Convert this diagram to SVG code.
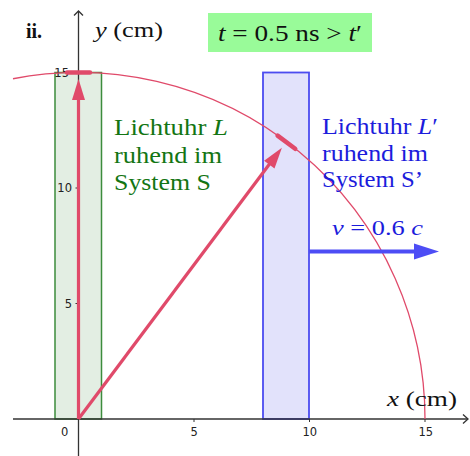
<svg xmlns="http://www.w3.org/2000/svg" width="470" height="456" viewBox="0 0 470 456">
<style>
.ax{stroke:#333;stroke-width:1.3;fill:none}
.tick{font-family:"DejaVu Sans",sans-serif;font-size:11.5px;fill:#222}
.serif{font-family:"Liberation Serif","Times New Roman",serif}
.red{stroke:#e04a6a;fill:none}
.gtxt{fill:#137513;font-size:23px}
.btxt{fill:#1c1cdc;font-size:23px}
</style>
<rect width="470" height="456" fill="#fff"/>
<g id="rects">
<rect id="clockL" x="55" y="72.5" width="46.5" height="346.5" fill="#e3eee3" stroke="#3d8c3d" stroke-width="1.5"/>
<rect id="clockL2" x="263" y="72.5" width="46" height="346.5" fill="#e2e2fb" stroke="#4c4cf0" stroke-width="1.8"/>
</g>
<g id="axes">
<line class="ax" x1="13" y1="419" x2="468" y2="419"/>
<polyline class="ax" points="463,414.5 468,419 463,423.5"/>
<line class="ax" x1="78.5" y1="456" x2="78.5" y2="11"/>
<polyline class="ax" points="74,15.5 78.5,11 83,15.5"/>
<g stroke="#333" stroke-width="1">
<line x1="75.5" y1="303.5" x2="78.5" y2="303.5"/>
<line x1="75.5" y1="188" x2="78.5" y2="188"/>
<line x1="75.5" y1="72.5" x2="78.5" y2="72.5"/>
<line x1="194" y1="419" x2="194" y2="422"/>
<line x1="309.5" y1="419" x2="309.5" y2="422"/>
<line x1="425" y1="419" x2="425" y2="422"/>
</g>
<text class="tick" x="61" y="436">0</text>
<text class="tick" x="190.5" y="436">5</text>
<text class="tick" x="302.5" y="436">10</text>
<text class="tick" x="418.5" y="436">15</text>
<text class="tick" x="72" y="307.5" text-anchor="end">5</text>
<text class="tick" x="72" y="192" text-anchor="end">10</text>
<text class="tick" x="69" y="77" text-anchor="end">15</text>
</g>
<g id="connectors">
<path class="red" stroke-width="1.3" d="M 13 78.75 A 346.5 346.5 0 0 1 425 419"/>
<line class="red" stroke-width="3.2" x1="78.5" y1="419" x2="78.5" y2="96"/>
<polygon fill="#e04a6a" points="78.5,79 72,100 85,100"/>
<line class="red" stroke-width="3.2" x1="78.5" y1="419" x2="271" y2="162"/>
<polygon fill="#e04a6a" points="281.9,147.8 274.5,168.5 264.1,160.7"/>
<line class="red" stroke-width="4.5" stroke-linecap="round" x1="67" y1="72.5" x2="90" y2="72.5"/>
<line class="red" stroke-width="4.5" stroke-linecap="round" x1="277.6" y1="135.6" x2="295.2" y2="148.8"/>
<line stroke="#4d4df5" stroke-width="4" x1="309" y1="251.5" x2="416" y2="251.5"/>
<polygon fill="#4d4df5" points="439,251.5 414,243.5 414,259.5"/>
</g>
<g id="labels" class="serif">
<text x="26" y="38" font-weight="bold" font-size="20" fill="#111">ii.</text>
<text x="95" y="37" font-size="22" fill="#111" textLength="68" lengthAdjust="spacingAndGlyphs"><tspan font-style="italic">y</tspan> (cm)</text>
<text x="387" y="406" font-size="22" fill="#111" textLength="70" lengthAdjust="spacingAndGlyphs"><tspan font-style="italic">x</tspan> (cm)</text>
<rect x="208" y="13" width="164" height="39" fill="#99fb99"/>
<text x="218" y="41" font-size="23" fill="#111" textLength="144" lengthAdjust="spacingAndGlyphs"><tspan font-style="italic">t</tspan> = 0.5 ns &gt; <tspan font-style="italic">t</tspan>′</text>
<text class="gtxt" x="114" y="135" textLength="114" lengthAdjust="spacingAndGlyphs">Lichtuhr <tspan font-style="italic">L</tspan></text>
<text class="gtxt" x="114" y="162.5" textLength="108" lengthAdjust="spacingAndGlyphs">ruhend im</text>
<text class="gtxt" x="114" y="190" textLength="97" lengthAdjust="spacingAndGlyphs">System S</text>
<text class="btxt" x="322" y="134" textLength="116" lengthAdjust="spacingAndGlyphs">Lichtuhr <tspan font-style="italic">L</tspan>′</text>
<text class="btxt" x="322" y="160.5" textLength="106" lengthAdjust="spacingAndGlyphs">ruhend im</text>
<text class="btxt" x="322" y="187" textLength="101" lengthAdjust="spacingAndGlyphs">System S’</text>
<text x="332" y="235" font-size="22" fill="#1c1cdc" textLength="91" lengthAdjust="spacingAndGlyphs"><tspan font-style="italic">v</tspan> = 0.6 <tspan font-style="italic">c</tspan></text>
</g>
</svg>
